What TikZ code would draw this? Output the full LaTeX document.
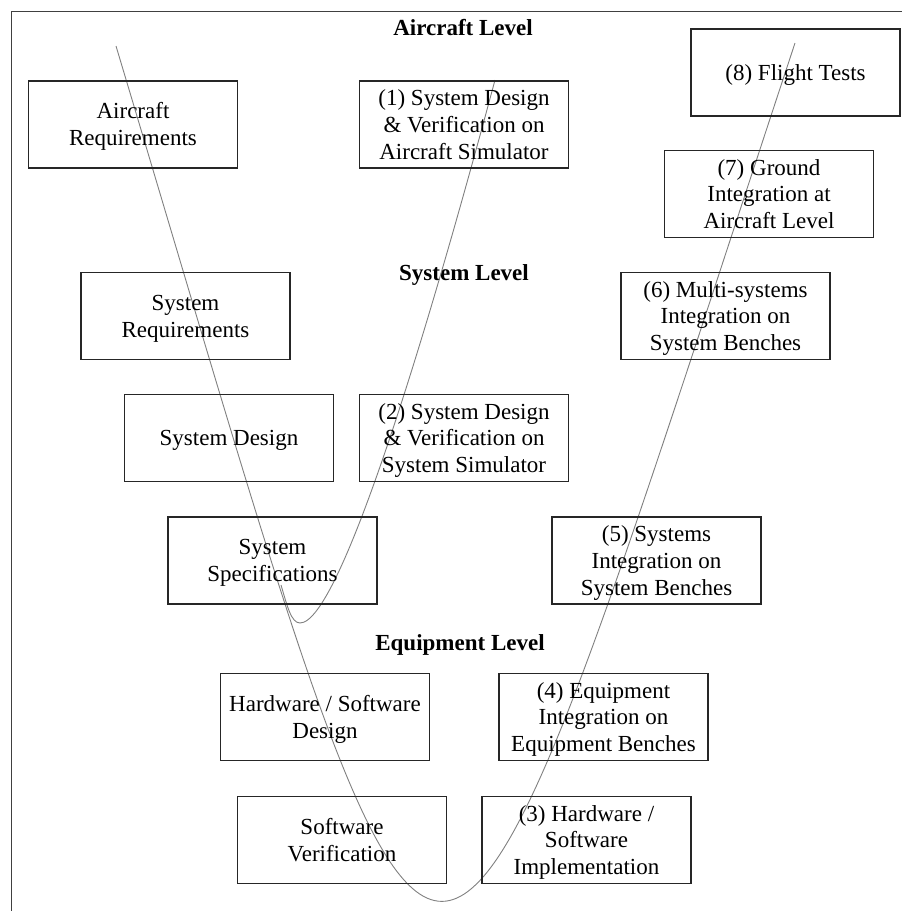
\documentclass[tikz,border=0pt]{standalone}
\usepackage{fontspec}
\setmainfont{Liberation Serif}
% centred stack of lines, set a little below the middle of its box
\newcommand{\stg}[1]{\raisebox{0pt}[\dimexpr\height+5pt\relax][\depth]{%
  \begin{tabular}{@{}c@{}}#1\end{tabular}}}
\begin{document}
\begin{tikzpicture}[x=1pt,y=-1pt,
  stage/.style={draw=black!85,line width=1.1pt,minimum width=209pt,minimum height=87pt,
    inner sep=0pt,font=\fontsize{23}{26.7}\selectfont},
  levelname/.style={anchor=base,inner sep=0pt,font=\fontsize{23}{26.7}\selectfont\bfseries},
  vcurve/.style={draw=black!50,line width=0.9pt},
  frameline/.style={draw=black!75,line width=1pt}]
\useasboundingbox (0,0) rectangle (902,911);

% outer frame (left and top edges only)
\coordinate (frameBL) at (11,911);
\coordinate (frameTL) at (11,11);
\coordinate (frameTR) at (902,11);
\draw[frameline] (frameBL) -- (frameTL) -- (frameTR);

% level headings
\node[levelname] (lvlA) at (463,35) {Aircraft Level};
\node[levelname] (lvlS) at (464,280) {System Level};
\node[levelname] (lvlE) at (460,650) {Equipment Level};

% the large V and the inner loop
\coordinate (bigStart) at (116,46);
\coordinate (bigEnd) at (795,43);
\draw[vcurve] (bigStart) .. controls (458,1187) and (417,1187) .. (bigEnd);

\coordinate (loopStart) at (281,585);
\coordinate (loopBottom) at (300,623);
\coordinate (loopEnd) at (495,80);
\draw[vcurve] (loopStart) .. controls (287,605) and (291,623) .. (loopBottom)
  .. controls (340,623) and (428,330) .. (loopEnd);

% descending branch
\node[stage] (acReq)  at (133,124.5)   {\stg{Aircraft\\Requirements}};
\node[stage] (sysReq) at (185.5,316)   {\stg{System\\Requirements}};
\node[stage] (sysDes) at (229,438)     {\stg{System Design}};
\node[stage] (sysSpec) at (272.5,560.5) {\stg{System\\Specifications}};
\node[stage] (hwswDes) at (325,717)    {\stg{Hardware / Software\\Design}};
\node[stage] (swVer)  at (342,840)     {\stg{Software\\Verification}};

% numbered activities
\node[stage] (st1) at (464,124.5)  {\stg{(1) System Design\\\& Verification on\\Aircraft Simulator}};
\node[stage] (st2) at (464,438)    {\stg{(2) System Design\\\& Verification on\\System Simulator}};
\node[stage] (st3) at (586.5,840)  {\stg{(3) Hardware /\\Software\\Implementation}};
\node[stage] (st4) at (603.5,717)  {\stg{(4) Equipment\\Integration on\\Equipment Benches}};
\node[stage] (st5) at (656.5,560.5) {\stg{(5) Systems\\Integration on\\System Benches}};
\node[stage] (st6) at (725.5,316)  {\stg{(6) Multi-systems\\Integration on\\System Benches}};
\node[stage] (st7) at (769,194)    {\stg{(7) Ground\\Integration at\\Aircraft Level}};
\node[stage] (st8) at (795.5,72.5) {\stg{(8) Flight Tests}};
\end{tikzpicture}
\end{document}
